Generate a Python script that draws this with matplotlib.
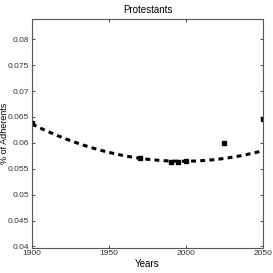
import numpy as np
import matplotlib
matplotlib.use("Agg")
from matplotlib import pyplot as plt

plt.rcParams['font.family'] = ['Liberation Sans Narrow', 'Liberation Sans', 'DejaVu Sans']

# observed shares
years = [1900, 1970, 1990, 1995, 2000, 2025, 2050]
share = [0.0638, 0.0570, 0.0563, 0.0563, 0.0564, 0.0599, 0.0646]

# trend curve
curve_years = [1900, 1950, 2000, 2050]
curve_share = [0.0636, 0.0582, 0.0564, 0.0585]

coef = np.polyfit(curve_years, curve_share, 2)
xs = np.linspace(1900, 2050, 200)

fig = plt.figure(figsize=(2.73, 2.73), dpi=100)
ax = fig.add_axes([32/273, 1 - 247.5/273, 231/273, 228.5/273])

ax.plot(xs, np.polyval(coef, xs), color="black", linestyle=(0, (1.6, 1.4)), linewidth=2.2)
ax.plot(years, share, "s", color="black", markersize=2.6)

ax.set_xlim(1900, 2050)
ax.set_ylim(0.0398, 0.0839)
ax.set_xticks([1900, 1950, 2000, 2050])
ax.set_yticks([0.04, 0.045, 0.05, 0.055, 0.06, 0.065, 0.07, 0.075, 0.08])
ax.set_yticklabels(["0.04", "0.045", "0.05", "0.055", "0.06", "0.065", "0.07", "0.075", "0.08"])
ax.tick_params(direction="in", top=True, right=True, labelsize=6, length=2.5, width=0.6, pad=2, colors="#333333")
for s in ax.spines.values():
    s.set_linewidth(0.8)
    s.set_color("#555555")

ax.set_title("Protestants", fontsize=7, pad=4)
ax.set_xlabel("Years", fontsize=7, labelpad=1)
ax.set_ylabel("% of Adherents", fontsize=6.5)
ax.yaxis.set_label_coords(-0.1, 0.5)

fig.savefig("out.png", dpi=100)
